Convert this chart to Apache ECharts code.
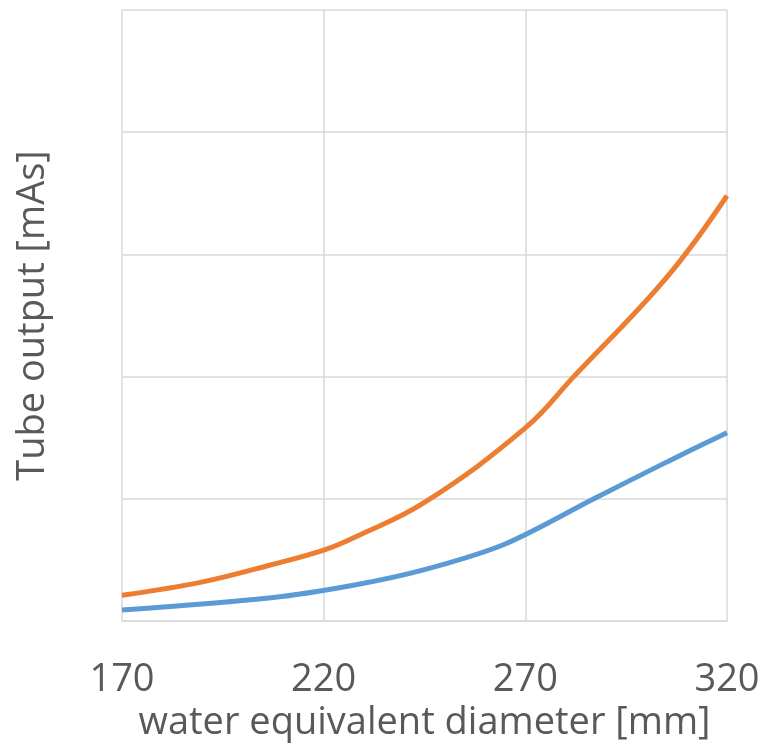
<!DOCTYPE html>
<html>
<head>
  <meta charset="utf-8" />
  <title>Tube output</title>
  <style>
    html, body { margin: 0; padding: 0; background: #ffffff; }
  </style>
  <script src="https://cdn.jsdelivr.net/npm/echarts@6/dist/echarts.min.js"></script>
</head>
<body>
  <div id="main" style="width: 766px; height: 747px;"></div>
  <script type="text/javascript">
    // x axis starts at 170, ticks every 50
    var xStart = 170;
    var xTicks = [170, 220, 270, 320];

    // [diameter mm, tube output] (y in grid units, 5 bands)
    var orangeData = [
      [170, 0.21], [190, 0.32], [207, 0.46], [220, 0.58], [228, 0.69],
      [245, 0.97], [270, 1.58], [282, 2.0], [305, 2.81], [320, 3.48]
    ];
    var blueData = [
      [170, 0.09], [207, 0.19], [227, 0.29], [245, 0.42], [265, 0.63],
      [287, 1.0], [305, 1.3], [320, 1.54]
    ];

    function shift(data) {
      return data.map(function (d) { return [d[0] - xStart, d[1]]; });
    }

    var myChart = echarts.init(document.getElementById('main'));
    var textColor = '#595959';
    var gridColor = '#D9D9D9';
    var font = 'Open Sans';

    var option = {
      animation: false,
      grid: { left: 122, right: 39, top: 10, bottom: 126, containLabel: false, outerBoundsMode: 'none' },
      xAxis: {
        type: 'value',
        min: 0,
        max: xTicks[xTicks.length - 1] - xStart,
        interval: 50,
        name: 'water equivalent diameter [mm]',
        nameLocation: 'middle',
        nameGap: 83,
        nameTextStyle: { color: textColor, fontSize: 38, fontFamily: font },
        axisLine: { show: true, lineStyle: { color: gridColor, width: 1.5 } },
        axisTick: { show: false },
        axisLabel: {
          color: textColor,
          fontSize: 38,
          fontFamily: font,
          margin: 40,
          formatter: function (v) { return String(v + xStart); }
        },
        splitLine: { show: true, lineStyle: { color: gridColor, width: 1.5 } }
      },
      yAxis: {
        type: 'value',
        min: 0,
        max: 5,
        interval: 1,
        name: 'Tube output [mAs]',
        nameLocation: 'middle',
        nameGap: 70,
        nameTextStyle: { color: textColor, fontSize: 38, fontFamily: font },
        axisLine: { show: false },
        axisTick: { show: false },
        axisLabel: { show: false },
        splitLine: { show: true, lineStyle: { color: gridColor, width: 1.5 } }
      },
      series: [
        {
          type: 'line',
          data: shift(blueData),
          smooth: 0.3,
          showSymbol: false,
          lineStyle: { color: '#5B9BD5', width: 5 }
        },
        {
          type: 'line',
          data: shift(orangeData),
          smooth: 0.4,
          showSymbol: false,
          lineStyle: { color: '#ED7D31', width: 5 }
        }
      ]
    };
    myChart.setOption(option);
  </script>
</body>
</html>
